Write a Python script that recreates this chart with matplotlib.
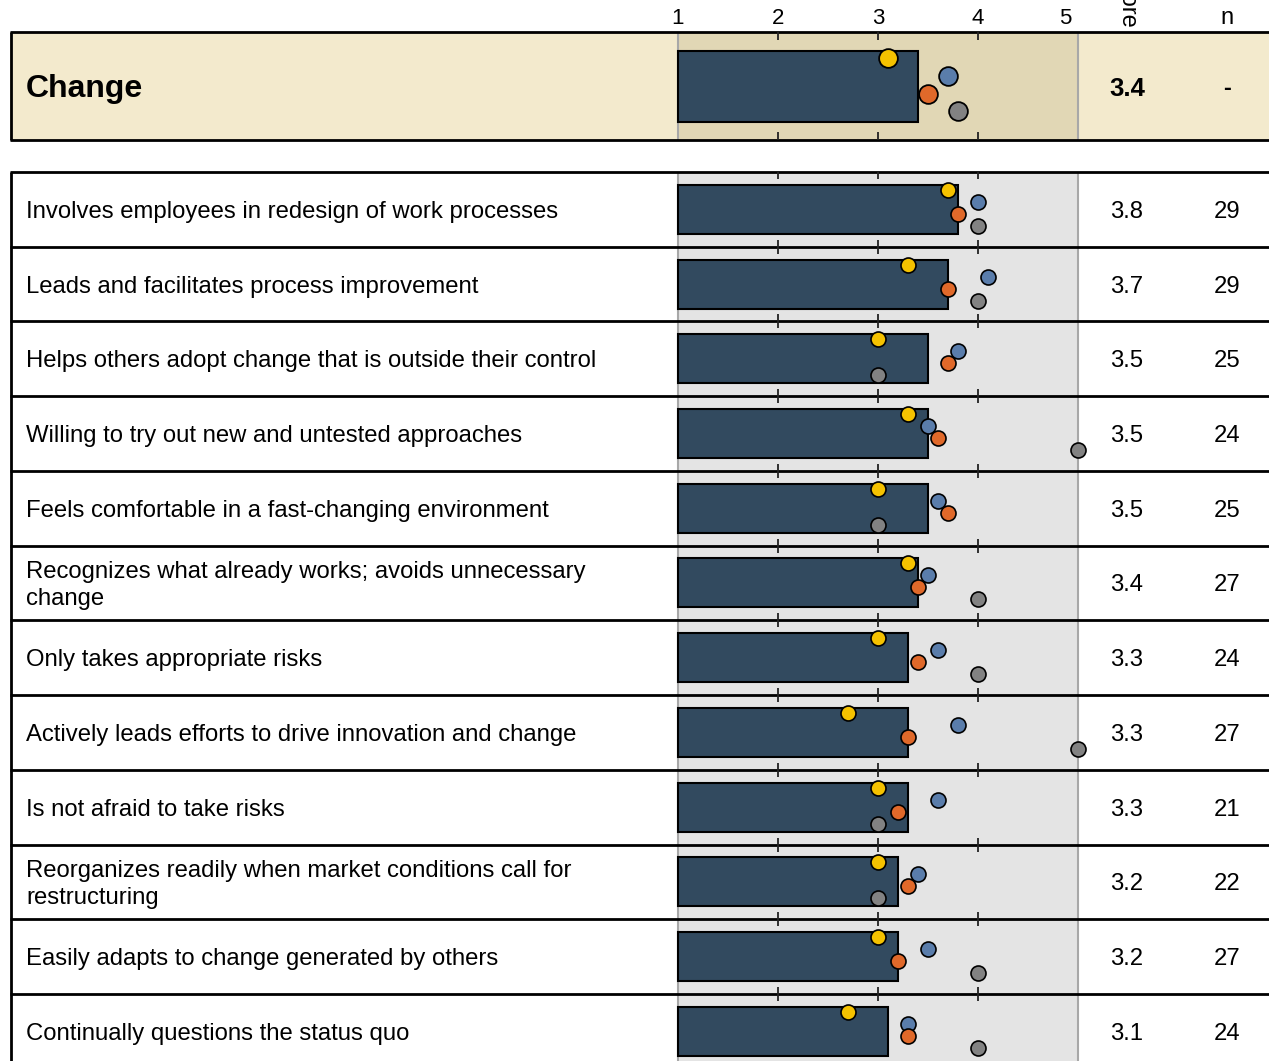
import matplotlib
matplotlib.use('Agg')
import matplotlib.pyplot as plt
from matplotlib.patches import Rectangle

plt.rcParams['font.family'] = ['Liberation Sans', 'DejaVu Sans']

# ---------------- data ----------------
category = "Change"
category_score = 3.4
category_n = "-"
category_yellow = 3.1
category_blue = 3.7
category_orange = 3.5
category_gray = 3.8

items = [
    "Involves employees in redesign of work processes",
    "Leads and facilitates process improvement",
    "Helps others adopt change that is outside their control",
    "Willing to try out new and untested approaches",
    "Feels comfortable in a fast-changing environment",
    "Recognizes what already works; avoids unnecessary\nchange",
    "Only takes appropriate risks",
    "Actively leads efforts to drive innovation and change",
    "Is not afraid to take risks",
    "Reorganizes readily when market conditions call for\nrestructuring",
    "Easily adapts to change generated by others",
    "Continually questions the status quo",
]
scores = [3.8, 3.7, 3.5, 3.5, 3.5, 3.4, 3.3, 3.3, 3.3, 3.2, 3.2, 3.1]
yellow = [3.7, 3.3, 3.0, 3.3, 3.0, 3.3, 3.0, 2.7, 3.0, 3.0, 3.0, 2.7]
blue = [4.0, 4.1, 3.8, 3.5, 3.6, 3.5, 3.6, 3.8, 3.6, 3.4, 3.5, 3.3]
orange = [3.8, 3.7, 3.7, 3.6, 3.7, 3.4, 3.4, 3.3, 3.2, 3.3, 3.2, 3.3]
gray = [4.0, 4.0, 3.0, 5.0, 3.0, 4.0, 4.0, 5.0, 3.0, 3.0, 4.0, 4.0]
n_values = [29, 29, 25, 24, 25, 27, 24, 27, 21, 22, 27, 24]
tick_values = [1, 2, 3, 4, 5]
col_headers = ["Score", "n"]

# ---------------- style ----------------
BAR = '#324a5f'
C_YEL = '#f5c200'
C_BLU = '#5a7dab'
C_ORA = '#e0692a'
C_GRY = '#828282'
HDR_BG = '#f3eacd'
HDR_AREA = '#e1d7b5'
AREA = '#e4e4e4'
EDGE_GRAY = '#a8a8a8'

W, H = 1269, 1061
fig = plt.figure(figsize=(W / 100, H / 100), dpi=100)
ax = fig.add_axes([0, 0, 1, 1])
PX1, PX5 = 678, 1078
scale = (PX5 - PX1) / 4.0


def X(px):
    return 1 + (px - PX1) / scale


ax.set_xlim(X(0), X(W))
ax.set_ylim(H, 0)
ax.axis('off')

TXT_DY = 2.5  # small downward nudge so glyphs sit centred like the reference

# ---------------- header band ----------------
ht, hb = 32, 140
hc = (ht + hb) / 2
ax.add_patch(Rectangle((X(10), ht), X(W + 20) - X(10), hb - ht,
                       fc=HDR_BG, ec='none', zorder=0))
ax.add_patch(Rectangle((1, ht), 4, hb - ht, fc=HDR_AREA, ec='none', zorder=1))
ax.vlines([1, 5], ht, hb, color=EDGE_GRAY, lw=1.5, zorder=2)
ax.hlines([ht, hb], X(10), X(W + 20), color='black', lw=2, zorder=4)
ax.vlines(X(11), ht, hb, color='black', lw=2, zorder=4)
ax.vlines(tick_values[1:-1], ht, ht + 8, color='#222222', lw=1.3, zorder=4)
ax.vlines(tick_values[1:-1], hb - 8, hb, color='#222222', lw=1.3, zorder=4)

ax.barh(hc, category_score - 1, left=1, height=71, color=BAR,
        edgecolor='black', lw=1.5, zorder=5)
hoffs = [-28.5, -10.5, 7.5, 24.5]
for val, col, off in zip([category_yellow, category_blue, category_orange, category_gray],
                         [C_YEL, C_BLU, C_ORA, C_GRY], hoffs):
    ax.plot(val, hc + off, 'o', ms=13.5, mfc=col, mec='black', mew=1.3, zorder=6)

ax.text(X(26), hc + 3, category, fontsize=23, fontweight='bold', ha='left',
        va='center', zorder=7)
ax.text(X(1127), hc + TXT_DY, f"{category_score:.1f}", fontsize=18.5,
        fontweight='bold', ha='center', va='center', zorder=7)
ax.text(X(1227), hc + TXT_DY, category_n, fontsize=17, fontweight='bold',
        ha='center', va='center', zorder=7)

# ---------------- axis tick labels & column headers ----------------
for tv in tick_values:
    if tv == tick_values[-1]:
        ax.text(tv - 0.07, 29, str(tv), fontsize=16, ha='right', va='bottom')
    else:
        ax.text(tv, 29, str(tv), fontsize=16, ha='center', va='bottom')
ax.text(X(1127), 29, col_headers[0], fontsize=17, rotation=-90,
        ha='center', va='bottom')
ax.text(X(1227), 29, col_headers[1], fontsize=17, ha='center', va='bottom')

# ---------------- table ----------------
t0 = 172
rh = (1068.7 - t0) / 12
ax.add_patch(Rectangle((1, t0), 4, H + 20 - t0, fc=AREA, ec='none', zorder=1))
ax.vlines([1, 5], t0, H + 20, color=EDGE_GRAY, lw=1.5, zorder=2)
ax.vlines(X(11), t0, H + 20, color='black', lw=2, zorder=4)

row_lines = [t0 + i * rh for i in range(len(items) + 1)]
ax.hlines(row_lines, X(10), X(W + 20), color='black', lw=2, zorder=4)
for i, yl in enumerate(row_lines):
    top = yl - 7 if i > 0 else yl
    ax.vlines(tick_values[1:-1], top, yl + 7, color='#222222', lw=1.3, zorder=4)

centers = [t0 + (i + 0.5) * rh for i in range(len(items))]
ax.barh(centers, [s - 1 for s in scores], left=1, height=49, color=BAR,
        edgecolor='black', lw=1.5, zorder=5)
roffs = [-19.5, -7.5, 4.5, 16.5]
for series, col, off in zip([yellow, blue, orange, gray],
                            [C_YEL, C_BLU, C_ORA, C_GRY], roffs):
    ax.plot(series, [c + off for c in centers], 'o', ls='none', ms=10.8,
            mfc=col, mec='black', mew=1.2, zorder=6)

for c, lab, s, n in zip(centers, items, scores, n_values):
    ax.text(X(26), c + TXT_DY, lab, fontsize=17.2, ha='left', va='center',
            linespacing=1.28, zorder=7)
    ax.text(X(1127), c + TXT_DY, f"{s:.1f}", fontsize=17.2, ha='center',
            va='center', zorder=7)
    ax.text(X(1227), c + TXT_DY, str(n), fontsize=17.2, ha='center',
            va='center', zorder=7)

fig.savefig('out.png', dpi=100)
